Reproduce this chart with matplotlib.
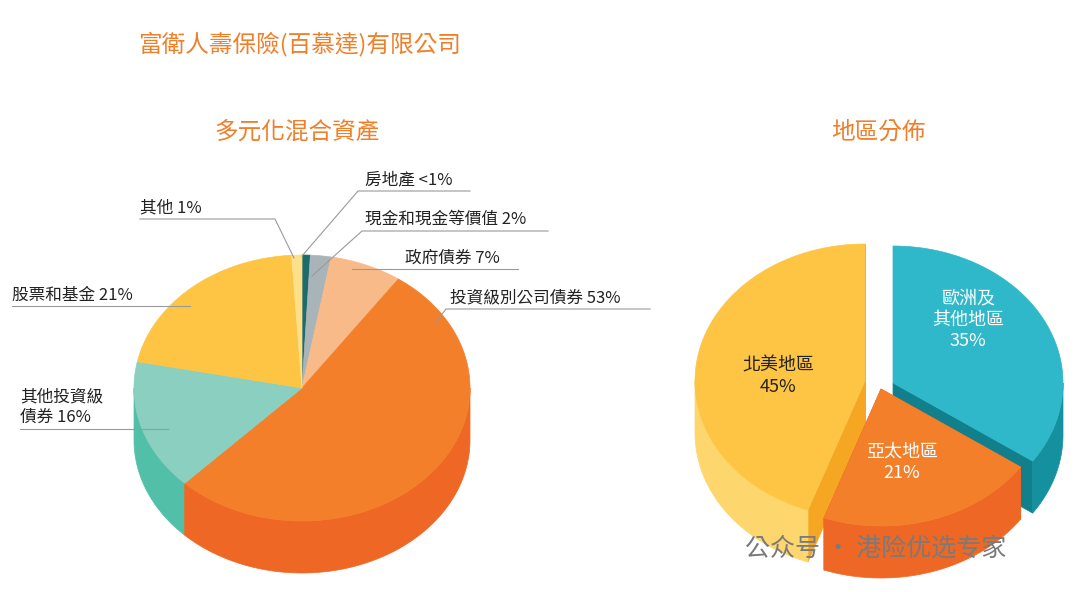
import numpy as np
import matplotlib
matplotlib.use("Agg")
import matplotlib.pyplot as plt
from matplotlib.patches import Polygon

plt.rcParams['font.family'] = ['Noto Sans CJK TC', 'DejaVu Sans']

# data
asset_labels = ["房地產", "現金和現金等價值", "政府債券", "投資級別公司債券", "其他投資級債券", "股票和基金", "其他"]
asset_values = [0.8, 2, 7, 53, 16, 21, 1]
asset_text = ["房地產 <1%", "現金和現金等價值 2%", "政府債券 7%", "投資級別公司債券 53%", "其他投資級\n債券 16%", "股票和基金 21%", "其他 1%"]
region_labels = ["歐洲及\n其他地區", "亞太地區", "北美地區"]
region_values = [35, 21, 45]
region_pct = ["35%", "21%", "45%"]

asset_top = ["#1E6B6B", "#A9B4B9", "#F9BA8A", "#F47F2A", "#8ACFC0", "#FDC543", "#FEE08A"]
asset_side = ["#155555", "#8E999E", "#F0A274", "#EE6724", "#52BFA8", "#F5B32E", "#F5D070"]
region_top = ["#2EB8C9", "#F47F2A", "#FDC543"]
region_side = ["#14909F", "#EE6724", "#FDD66E"]
region_cut = ["#117F8C", "#E25F20", "#F5A623"]
region_off = [(15, 6), (3, 12), (-13, 4)]

fig = plt.figure(figsize=(10.8, 5.92), dpi=100)
ax = fig.add_axes([0, 0, 1, 1])
ax.set_xlim(0, 1080); ax.set_ylim(592, 0); ax.axis("off")


def pt(cx, cy, rx, ry, t):
    return cx + rx * np.sin(t), cy - ry * np.cos(t)


def pie3d(values, tops, sides, cuts, offs, cx, cy, rx, ry, d):
    tot = sum(values)
    fr = np.cumsum([0] + list(values)) / tot * 2 * np.pi
    sidepolys, toppolys = [], []
    for i in range(len(values)):
        a0, a1 = fr[i], fr[i + 1]
        ox, oy = offs[i] if offs else (0, 0)
        c0x, c0y = cx + ox, cy + oy
        ts = np.linspace(a0, a1, max(int((a1 - a0) * 60), 3))
        arc = [pt(c0x, c0y, rx, ry, t) for t in ts]
        lo, hi = max(a0, np.pi / 2), min(a1, 3 * np.pi / 2)
        if hi > lo:
            tt = np.linspace(lo, hi, 80)
            a = [pt(c0x, c0y, rx, ry, t) for t in tt]
            poly = a + [(x, y + d) for x, y in a[::-1]]
            sidepolys.append((max(y for _, y in a), poly, sides[i]))
        if cuts is not None:
            for t in (a0, a1):
                ex, ey = pt(c0x, c0y, rx, ry, t)
                poly = [(c0x, c0y), (ex, ey), (ex, ey + d), (c0x, c0y + d)]
                sidepolys.append(((c0y + ey) / 2, poly, cuts[i]))
        toppolys.append(([(c0x, c0y)] + arc, tops[i]))
    for _, poly, col in sorted(sidepolys, key=lambda s: s[0]):
        ax.add_patch(Polygon(poly, closed=True, fc=col, ec=col, lw=0.5))
    for poly, col in toppolys:
        ax.add_patch(Polygon(poly, closed=True, fc=col, ec=col, lw=0.5))


pie3d(asset_values, asset_top, asset_side, None, None, 302, 388, 168, 133, 52)
pie3d(region_values, region_top, region_side, region_cut, region_off, 878, 377, 170, 137, 52)

orange = "#F07F2A"
ax.text(138, 44, "富衛人壽保險(百慕達)有限公司", color=orange, fontsize=17, va="center")
ax.text(297, 132, "多元化混合資產", color=orange, fontsize=17, va="center", ha="center")
ax.text(878, 132, "地區分佈", color=orange, fontsize=17, va="center", ha="center")

lc = "#9A9A9A"
fs = 12
tc = "#222222"
def lab(txt, x, y, line):
    ax.text(x, y, txt, fontsize=fs, color=tc, va="bottom", ha="left", linespacing=1.3, fontweight="medium")
    ax.plot(line[0], line[1], color=lc, lw=0.8)

lab(asset_text[0], 365, 188, ([470, 358, 302], [191, 191, 256]))
lab(asset_text[1], 365, 228, ([548, 362, 312], [231, 231, 276]))
lab(asset_text[2], 405, 267, ([518, 352], [269, 269]))
lab(asset_text[3], 450, 306, ([650, 446, 436], [309, 309, 322]))
lab(asset_text[6], 140, 216, ([140, 275, 294], [219, 219, 258]))
lab(asset_text[5], 12, 304, ([12, 190], [306, 306]))
lab(asset_text[4], 20, 426, ([20, 168], [429, 429]))

bold = dict(fontsize=13, ha="center", va="center", linespacing=1.25, fontweight="medium")
ax.text(968, 320, region_labels[0] + "\n" + region_pct[0], color="white", **bold)
ax.text(902, 462, region_labels[1] + "\n" + region_pct[1], color="white", **bold)
ax.text(778, 376, region_labels[2] + "\n" + region_pct[2], color="#222222", **bold)

ax.text(745, 549, "公众号 · 港险优选专家", color="#7A7A7A", fontsize=18, va="center", zorder=10)

fig.savefig("out.png", dpi=100)
